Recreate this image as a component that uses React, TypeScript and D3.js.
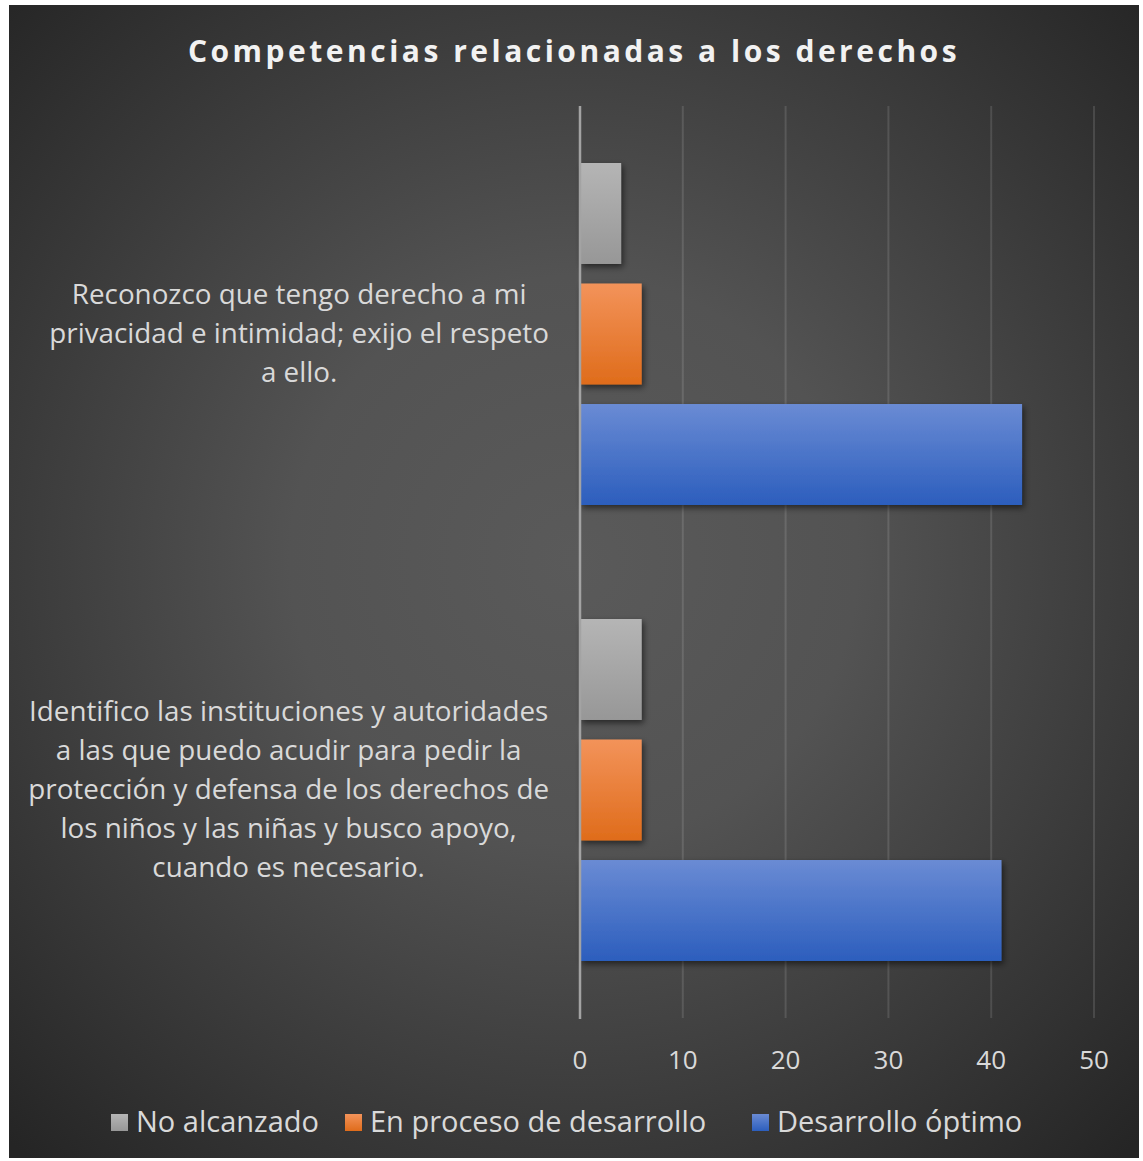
import React, { useEffect, useRef } from "react";
import * as d3 from "d3";

const categories = [
  "Reconozco que tengo derecho a mi privacidad e intimidad; exijo el respeto a ello.",
  "Identifico las instituciones y autoridades a las que puedo acudir para pedir la protección y defensa de los derechos de los niños y las niñas y busco apoyo, cuando es necesario.",
];
const categoryLines = [
  ["Reconozco que tengo derecho a mi", "privacidad e intimidad; exijo el respeto", "a ello."],
  [
    "Identifico las instituciones y autoridades",
    "a las que puedo acudir para pedir la",
    "protección y defensa de los derechos de",
    "los niños y las niñas y busco apoyo,",
    "cuando es necesario.",
  ],
];
const seriesNames = ["No alcanzado", "En proceso de desarrollo", "Desarrollo óptimo"];
const noAlcanzado = [4, 6];
const enProceso = [6, 6];
const desarrolloOptimo = [43, 41];
const xTicks = [0, 10, 20, 30, 40, 50];
const title = "Competencias relacionadas a los derechos";

const gradients = [
  ["#b5b5b5", "#979797"],
  ["#f3935a", "#df6c1b"],
  ["#6a8bd4", "#2c5ebd"],
];

const App = () => {
  const ref = useRef<SVGSVGElement>(null);

  useEffect(() => {
    const width = 1143, height = 1161;
    const svg = d3.select(ref.current);
    svg.selectAll("*").remove();
    const font = "'Open Sans', Lato, sans-serif";

    const defs = svg.append("defs");
    const bg = defs.append("radialGradient").attr("id", "bg")
      .attr("gradientUnits", "userSpaceOnUse")
      .attr("cx", 574).attr("cy", 560).attr("r", 810);
    bg.append("stop").attr("offset", 0).attr("stop-color", "#5a5a5a");
    bg.append("stop").attr("offset", 0.35).attr("stop-color", "#535353");
    bg.append("stop").attr("offset", 1).attr("stop-color", "#252525");

    gradients.forEach((g, i) => {
      const lg = defs.append("linearGradient").attr("id", `bar${i}`)
        .attr("x1", 0).attr("y1", 0).attr("x2", 0).attr("y2", 1);
      lg.append("stop").attr("offset", 0).attr("stop-color", g[0]);
      lg.append("stop").attr("offset", 1).attr("stop-color", g[1]);
    });
    defs.append("filter").attr("id", "shadow")
      .attr("x", "-10%").attr("y", "-10%").attr("width", "130%").attr("height", "130%")
      .append("feDropShadow")
      .attr("dx", 2).attr("dy", 3).attr("stdDeviation", 3)
      .attr("flood-color", "#000").attr("flood-opacity", 0.55);

    svg.append("rect").attr("width", width).attr("height", height).attr("fill", "#fff");
    svg.append("rect").attr("x", 9).attr("y", 5).attr("width", 1130).attr("height", 1153).attr("fill", "url(#bg)");

    svg.append("text")
      .attr("x", 574).attr("y", 62)
      .attr("text-anchor", "middle")
      .style("font-family", font).style("font-weight", "bold")
      .style("font-size", "30px").style("letter-spacing", "3.5px")
      .style("fill", "#f2f2f2")
      .text(title);

    const x = d3.scaleLinear().domain([0, 50]).range([580, 1094]);
    const y = d3.scaleBand().domain(categories).range([106, 1018]).paddingInner(0.25).paddingOuter(0.125);
    const ys = d3.scaleBand().domain(seriesNames).range([0, y.bandwidth()]).paddingInner(0.162);

    // gridlines
    svg.append("g").selectAll("line")
      .data(xTicks.filter((d) => d > 0))
      .enter().append("line")
      .attr("x1", (d) => x(d)).attr("x2", (d) => x(d))
      .attr("y1", 106).attr("y2", 1018)
      .attr("stroke", "rgba(255,255,255,0.12)").attr("stroke-width", 2);

    const series = [noAlcanzado, enProceso, desarrolloOptimo];
    const data = categories.flatMap((c, ci) =>
      seriesNames.map((s, si) => ({ c, s, si, v: series[si][ci] }))
    );

    svg.append("g").selectAll("rect")
      .data(data)
      .enter().append("rect")
      .attr("x", x(0))
      .attr("y", (d) => y(d.c)! + ys(d.s)!)
      .attr("width", (d) => x(d.v) - x(0))
      .attr("height", ys.bandwidth())
      .attr("fill", (d) => `url(#bar${d.si})`)
      .attr("filter", "url(#shadow)");

    // axis line at 0
    svg.append("line")
      .attr("x1", x(0)).attr("x2", x(0)).attr("y1", 106).attr("y2", 1019)
      .attr("stroke", "#a3a3a3").attr("stroke-width", 2.5);

    // x tick labels
    svg.append("g").selectAll("text")
      .data(xTicks)
      .enter().append("text")
      .attr("x", (d) => x(d)).attr("y", 1069)
      .attr("text-anchor", "middle")
      .style("font-family", font).style("font-size", "26px").style("fill", "#d9d9d9")
      .text((d) => d);

    // category labels
    const lineH = 39;
    categories.forEach((c, ci) => {
      const lines = categoryLines[ci];
      const cy = y(c)! + y.bandwidth() / 2;
      const g = svg.append("g");
      const texts = g.selectAll("text")
        .data(lines)
        .enter().append("text")
        .attr("y", (d, i) => cy + (i - (lines.length - 1) / 2) * lineH + 9)
        .attr("text-anchor", "middle")
        .style("font-family", font).style("font-size", "27.8px").style("fill", "#d9d9d9")
        .text((d) => d);
      let maxW = 0;
      texts.each(function () {
        maxW = Math.max(maxW, (this as SVGTextElement).getComputedTextLength());
      });
      texts.attr("x", 549 - maxW / 2);
    });

    // legend
    const legendX = [111, 345, 752];
    const lg = svg.append("g").selectAll("g")
      .data(seriesNames)
      .enter().append("g")
      .attr("transform", (d, i) => `translate(${legendX[i]},1114)`);
    lg.append("rect").attr("width", 17).attr("height", 17)
      .attr("fill", (d, i) => `url(#bar${i})`);
    lg.append("text").attr("x", 25).attr("y", 18)
      .style("font-family", font).style("font-size", "29px").style("fill", "#d9d9d9")
      .text((d) => d);
  }, []);

  return (
    <svg ref={ref} width={1143} height={1161}
      style={{ position: "absolute", left: 0, top: 0 }} />
  );
};

export default App;
